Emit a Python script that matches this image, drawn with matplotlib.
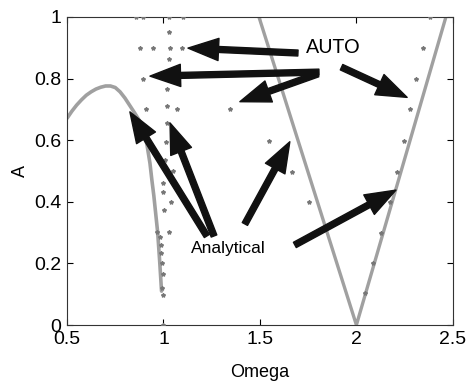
import matplotlib
matplotlib.use("Agg")
import matplotlib.pyplot as plt
from matplotlib.patches import FancyArrowPatch, ArrowStyle

# Analytical curves
omega_left = [0.5, 0.525, 0.55, 0.575, 0.6, 0.625, 0.65, 0.675, 0.7, 0.725, 0.75, 0.775,
              0.8, 0.825, 0.85, 0.875, 0.9, 0.915, 0.93, 0.94, 0.95, 0.96, 0.97, 0.98, 0.99]
A_left = [0.671, 0.694, 0.714, 0.731, 0.746, 0.757, 0.766, 0.772, 0.776, 0.776, 0.771, 0.757,
          0.737, 0.713, 0.689, 0.664, 0.627, 0.583, 0.525, 0.47, 0.42, 0.36, 0.30, 0.21, 0.11]
omega_v = [1.495, 2.0, 2.464]
A_v = [1.0, 0.0, 1.0]

# AUTO points
omega_auto = [0.857, 0.894, 1.03, 1.10, 2.38,
              1.03,
              0.878, 0.944, 1.034, 1.094, 2.345,
              1.028,
              0.894, 2.31,
              1.02,
              0.909, 1.018, 1.07, 1.345, 2.277,
              1.017,
              1.013, 1.547, 2.246,
              1.008, 1.049, 1.666, 2.21,
              0.999, 0.997,
              1.039, 1.003, 1.754, 2.174,
              0.965, 0.982, 1.028, 2.13,
              0.987, 0.987, 0.99, 2.085,
              0.996, 0.994, 0.999, 2.044,
              0.997]
A_auto = [1.0, 1.0, 1.0, 1.0, 1.0,
          0.952,
          0.899, 0.899, 0.899, 0.899, 0.90,
          0.864,
          0.80, 0.80,
          0.766,
          0.70, 0.712, 0.70, 0.70, 0.70,
          0.656,
          0.595, 0.598, 0.598,
          0.536, 0.501, 0.497, 0.498,
          0.462, 0.433,
          0.40, 0.373, 0.40, 0.40,
          0.301, 0.287, 0.301, 0.30,
          0.26, 0.233, 0.20, 0.20,
          0.165, 0.119, 0.097, 0.104,
          0.0]

# Arrows: (tail, tip) in data coordinates
auto_arrows = [((1.697, 0.883), (1.127, 0.899)),
               ((1.806, 0.821), (0.930, 0.808)),
               ((1.80, 0.815), (1.396, 0.725)),
               ((1.923, 0.837), (2.263, 0.739))]
analytical_arrows = [((1.225, 0.289), (0.826, 0.692)),
                     ((1.262, 0.289), (1.034, 0.656)),
                     ((1.422, 0.328), (1.655, 0.595)),
                     ((1.681, 0.260), (2.205, 0.438))]

x_ticks = [0.5, 1, 1.5, 2, 2.5]
x_ticklabels = ["0.5", "1", "1.5", "2", "2.5"]
y_ticks = [0, 0.2, 0.4, 0.6, 0.8, 1]
y_ticklabels = ["0", "0.2", "0.4", "0.6", "0.8", "1"]

plt.rcParams['font.family'] = ['Liberation Sans', 'DejaVu Sans']

fig = plt.figure(figsize=(4.66, 3.86), dpi=100)
ax = fig.add_axes([0.1438, 0.158, 0.828, 0.798])

ax.plot(omega_left, A_left, color='#a0a0a0', lw=2.6, solid_capstyle='round', zorder=2)
ax.plot(omega_v, A_v, color='#a0a0a0', lw=2.4, zorder=2)
ax.plot(omega_auto, A_auto, linestyle='none', marker='*', ms=3, color='#777777', zorder=3)

style = ArrowStyle.Simple(head_length=22, head_width=16, tail_width=4.3)
for tail, tip in auto_arrows + analytical_arrows:
    ax.add_patch(FancyArrowPatch(tail, tip, arrowstyle=style, mutation_scale=1,
                                 color='#111111', shrinkA=0, shrinkB=0, zorder=4))

ax.text(1.88, 0.902, "AUTO", fontsize=14, ha='center', va='center', family=['Lato', 'DejaVu Sans'])
ax.text(1.335, 0.247, "Analytical", fontsize=12.5, ha='center', va='center')

ax.set_xlim(0.5, 2.5)
ax.set_ylim(0, 1)
ax.set_xticks(x_ticks)
ax.set_xticklabels(x_ticklabels)
ax.set_yticks(y_ticks)
ax.set_yticklabels(y_ticklabels)
ax.tick_params(direction='in', length=4, width=0.8, top=True, right=True, labelsize=14, pad=4)
for s in ax.spines.values():
    s.set_linewidth(0.8)
    s.set_color('#333333')
ax.set_xlabel("Omega", fontsize=13, labelpad=12)
ax.set_ylabel("A", fontsize=13, labelpad=4)

fig.savefig("out.png", dpi=100)
